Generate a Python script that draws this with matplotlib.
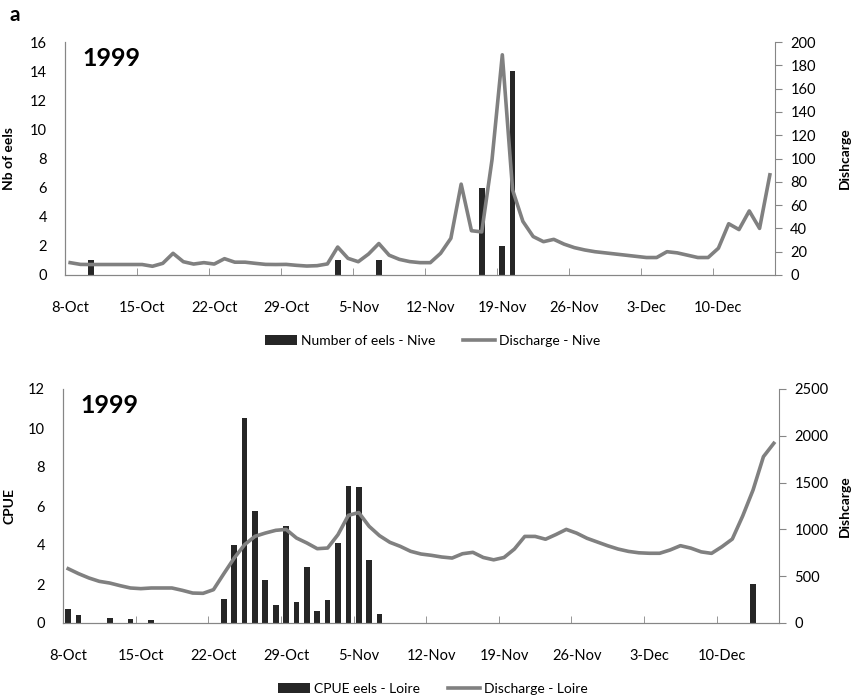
import matplotlib
matplotlib.use("Agg")
import matplotlib.pyplot as plt
import numpy as np
import pandas as pd

plt.rcParams['font.family'] = ['Lato', 'DejaVu Sans']

# one category per day, 8-Oct .. 15-Dec 1999
days = pd.date_range("1999-10-08", "1999-12-15", freq="D")
day_labels = [f"{d.day}-{d.strftime('%b')}" for d in days]

# Nive: number of eels (bars) and discharge (line)
nive_eels = [0, 0, 1, 0, 0, 0, 0, 0, 0, 0,
             0, 0, 0, 0, 0, 0, 0, 0, 0, 0,
             0, 0, 0, 0, 0, 0, 1, 0, 0, 0,
             1, 0, 0, 0, 0, 0, 0, 0, 0, 0,
             6, 0, 2, 14, 0, 0, 0, 0, 0, 0,
             0, 0, 0, 0, 0, 0, 0, 0, 0, 0,
             0, 0, 0, 0, 0, 0, 0, 0, 0]
nive_discharge = [10.6, 9.1, 9, 9, 9, 9, 9, 9, 7.5, 10,
                  18.6, 11.4, 9.4, 10.6, 9.4, 14, 11, 11, 10, 9.1,
                  9, 9.1, 8.3, 7.7, 8, 9.5, 24, 14.3, 11.4, 18,
                  27, 17, 13.4, 11.5, 10.6, 10.6, 18.6, 31.5, 78, 38,
                  37, 99, 189, 73, 46, 33, 28.6, 30.6, 26.5, 23.5,
                  21.5, 20, 19, 18, 17, 16, 15, 15, 20, 19,
                  17, 15, 15, 23, 44, 39, 55, 40, 86]

# Loire: CPUE (bars) and discharge (line)
loire_cpue = [0.7, 0.4, 0, 0, 0.25, 0, 0.2, 0, 0.15, 0,
              0, 0, 0, 0, 0, 1.25, 4, 10.5, 5.75, 2.2,
              0.92, 4.95, 1.1, 2.87, 0.62, 1.2, 4.1, 7.05, 7.0, 3.23,
              0.44, 0, 0, 0, 0, 0, 0, 0, 0, 0,
              0, 0, 0, 0, 0, 0, 0, 0, 0, 0,
              0, 0, 0, 0, 0, 0, 0, 0, 0, 0,
              0, 0, 0, 0, 0, 0, 2, 0, 0]
loire_discharge = [580, 527, 481, 445, 427, 399, 374, 367, 374, 374,
                   374, 349, 320, 317, 356, 527, 694, 837, 926, 961,
                   990, 1000, 908, 855, 794, 801, 944, 1150, 1180, 1033,
                   933, 862, 819, 766, 737, 723, 705, 694, 740, 755,
                   700, 675, 700, 790, 925, 925, 895, 945, 1000, 960,
                   905, 865, 825, 790, 765, 750, 745, 745, 780, 826,
                   800, 760, 744, 815, 897, 1143, 1421, 1777, 1920]

BAR_COL = '#262626'
LINE_COL = '#808080'
SPINE_COL = '#868686'

x = np.arange(len(days))
fig = plt.figure(figsize=(8.57, 6.99), dpi=100)


def panel(rect, bars, line, ymax_l, ystep_l, ymax_r, ystep_r,
          ylabel, bar_label, line_label, leg_y):
    ax = fig.add_axes(rect)
    ax2 = ax.twinx()
    b = ax.bar(x, bars, width=0.55, color=BAR_COL, label=bar_label)
    l, = ax2.plot(x, line, color=LINE_COL, lw=2.6, label=line_label)

    ax.set_xlim(-0.5, len(days) - 0.5)
    ax.set_ylim(0, ymax_l)
    ax.set_yticks(np.arange(0, ymax_l + 0.1, ystep_l))
    ax2.set_ylim(0, ymax_r)
    ax2.set_yticks(np.arange(0, ymax_r + 0.1, ystep_r))

    ax.set_xticks(x[::7])
    ax.set_xticklabels(day_labels[::7])
    ax.set_xticks(np.arange(6.5, len(days) - 1, 7), minor=True)
    ax.tick_params(axis='x', which='major', length=0, pad=19, labelsize=10.5)
    ax.tick_params(axis='x', which='minor', direction='in', length=5,
                   color=SPINE_COL)
    ax.tick_params(axis='y', length=0, pad=13, labelsize=10.5)
    ax2.tick_params(axis='y', direction='out', length=5, color=SPINE_COL,
                    pad=6, labelsize=10.5)

    for a in (ax, ax2):
        a.spines['top'].set_visible(False)
        for s in ('left', 'right', 'bottom'):
            a.spines[s].set_color(SPINE_COL)
    ax.spines['right'].set_visible(False)

    # axis titles placed in pixels from the reference
    left_px, width_px = rect[0] * 857, rect[2] * 857
    ax.set_ylabel(ylabel, fontweight='bold', fontsize=10)
    ax.yaxis.set_label_coords((15 - left_px) / width_px, 0.5)
    ax2.set_ylabel('Dishcarge', fontweight='bold', fontsize=10, rotation=90)
    ax2.yaxis.set_label_coords((839 - left_px) / width_px, 0.5)

    ax.text(0.025, 0.93, '1999', transform=ax.transAxes, fontsize=18,
            fontweight='bold', va='center', ha='left')

    fig.legend([b, l], [bar_label, line_label], loc='center',
               bbox_to_anchor=(0.505, leg_y), ncol=2, frameon=False,
               fontsize=10, handlelength=2.3, columnspacing=2.0,
               handletextpad=0.3)
    return ax, ax2


panel((65 / 857, 1 - 275 / 699, 710 / 857, 233 / 699),
      nive_eels, nive_discharge, 16, 2, 200, 20,
      'Nb of eels', 'Number of eels - Nive', 'Discharge - Nive', 1 - 341 / 699)

panel((63 / 857, 1 - 623 / 699, 716 / 857, 234 / 699),
      loire_cpue, loire_discharge, 12, 2, 2500, 500,
      'CPUE', 'CPUE eels - Loire', 'Discharge - Loire', 1 - 689 / 699)

fig.text(15 / 857, 1 - 15 / 699, 'a', fontsize=15, fontweight='bold',
         ha='center', va='center')

fig.savefig("out.png", dpi=100)
